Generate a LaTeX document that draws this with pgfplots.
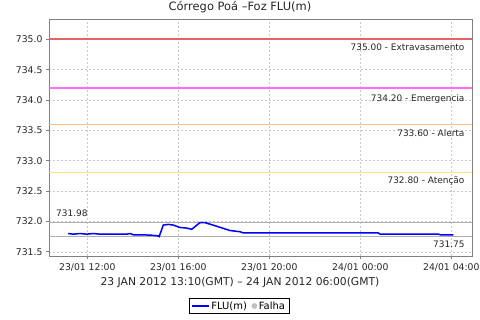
\documentclass[border=0pt]{standalone}
\usepackage{pgfplots}
\pgfplotsset{compat=1.18}
\usepackage{fontspec}
\setmainfont{DejaVu Sans}
\definecolor{colExtrav}{RGB}{228,100,100}
\definecolor{colEmerg}{RGB}{255,110,255}
\definecolor{colAlerta}{HTML}{FFC080}
\definecolor{colAtenc}{HTML}{FFE480}
\definecolor{refgray}{RGB}{176,176,176}
\definecolor{axgray}{RGB}{128,128,128}
\definecolor{gridgray}{RGB}{200,200,200}
\definecolor{fluxo}{RGB}{0,0,255}
\definecolor{falha}{RGB}{190,190,190}
\pgfplotstableread{
h v
11.16 731.80
11.38 731.79
11.68 731.80
11.97 731.79
12.26 731.80
12.56 731.79
13.73 731.79
13.88 731.80
14.02 731.78
14.76 731.775
15.12 731.76
15.16 731.75
15.34 731.94
15.56 731.95
15.78 731.94
16.07 731.90
16.37 731.89
16.59 731.87
16.95 731.98
17.17 731.98
17.69 731.92
18.27 731.85
18.71 731.83
18.86 731.81
19.59 731.81
24.79 731.81
24.87 731.79
27.43 731.79
27.51 731.78
28.09 731.78
}\flu
\begin{document}
\begin{tikzpicture}
\path[use as bounding box] (-49bp,-64bp) rectangle (431bp,256bp);
\begin{axis}[
  at={(0,0)}, anchor=south west,
  scale only axis, width=423bp, height=237bp,
  xmin=10.317, xmax=28.91, ymin=731.43, ymax=735.334,
  axis line style={axgray},
  tick style={axgray, line width=0.6bp},
  tick align=outside, major tick length=3bp,
  tick pos=left,
  xtick={12,16,20,24,28},
  xticklabels={23/01 12:00,23/01 16:00,23/01 20:00,24/01 00:00,24/01 04:00},
  ytick={731.5,732,732.5,733,733.5,734,734.5,735},
  /pgf/number format/assume math mode=true,
  yticklabel style={/pgf/number format/.cd, fixed, fixed zerofill, precision=1, 1000 sep={}},
  ticklabel style={font=\fontsize{9.3}{11}\selectfont, text=black!85},
  xticklabel style={yshift=-1bp},
  grid=major,
  major grid style={gridgray, dash pattern=on 2bp off 2bp, line width=0.5bp},
  legend style={at={(axis description cs:0.449,-0.211)}, anchor=center,
     draw=black, line width=0.6bp, font=\fontsize{10}{12}\selectfont,
     inner xsep=2bp, inner ysep=1bp,
     /tikz/every even column/.append style={column sep=3bp}},
  legend columns=2,
  legend cell align=left,
]
\addplot[draw=colAlerta, line width=1bp, forget plot] coordinates {(10.317,733.6) (28.91,733.6)};
\addplot[draw=colAtenc, line width=1bp, forget plot] coordinates {(10.317,732.8) (28.91,732.8)};
\addplot[draw=colExtrav, line width=1.6bp, forget plot] coordinates {(10.317,735.0) (28.91,735.0)};
\addplot[draw=colEmerg, line width=1.6bp, forget plot] coordinates {(10.317,734.2) (28.91,734.2)};
\addplot[draw=refgray, line width=1bp, forget plot] coordinates {(10.317,731.98) (28.91,731.98)};
\addplot[draw=refgray, line width=1bp, forget plot] coordinates {(10.317,731.75) (28.91,731.75)};
\addplot[color=fluxo, line width=1.5bp, mark=none] table[x=h, y=v] {\flu};
\addlegendentry{FLU(m)}
\addlegendimage{only marks, mark=*, mark size=2.5bp, color=falha, mark options={draw=falha, fill=falha}}
\addlegendentry{Falha}
\node[anchor=east, font=\fontsize{9}{11}\selectfont, text=black!85] at (axis cs:28.734,734.873) {735.00 - Extravasamento};
\node[anchor=east, font=\fontsize{9}{11}\selectfont, text=black!85] at (axis cs:28.734,734.021) {734.20 - Emergencia};
\node[anchor=east, font=\fontsize{9}{11}\selectfont, text=black!85] at (axis cs:28.734,733.461) {733.60 - Alerta};
\node[anchor=east, font=\fontsize{9}{11}\selectfont, text=black!85] at (axis cs:28.734,732.666) {732.80 - Atenção};
\node[anchor=east, font=\fontsize{9}{11}\selectfont, text=black!85] at (axis cs:28.734,731.616) {731.75};
\node[anchor=west, font=\fontsize{9}{11}\selectfont, text=black!85] at (axis cs:10.479,732.127) {731.98};
\end{axis}
\node[font=\fontsize{11.5}{13}\selectfont, text=black!85] at (191bp,248.7bp) {Córrego Poá –Foz FLU(m)};
\node[font=\fontsize{10.8}{13}\selectfont, text=black!85] at (191bp,-26bp) {23 JAN 2012 13:10(GMT) – 24 JAN 2012 06:00(GMT)};
\end{tikzpicture}
\end{document}
